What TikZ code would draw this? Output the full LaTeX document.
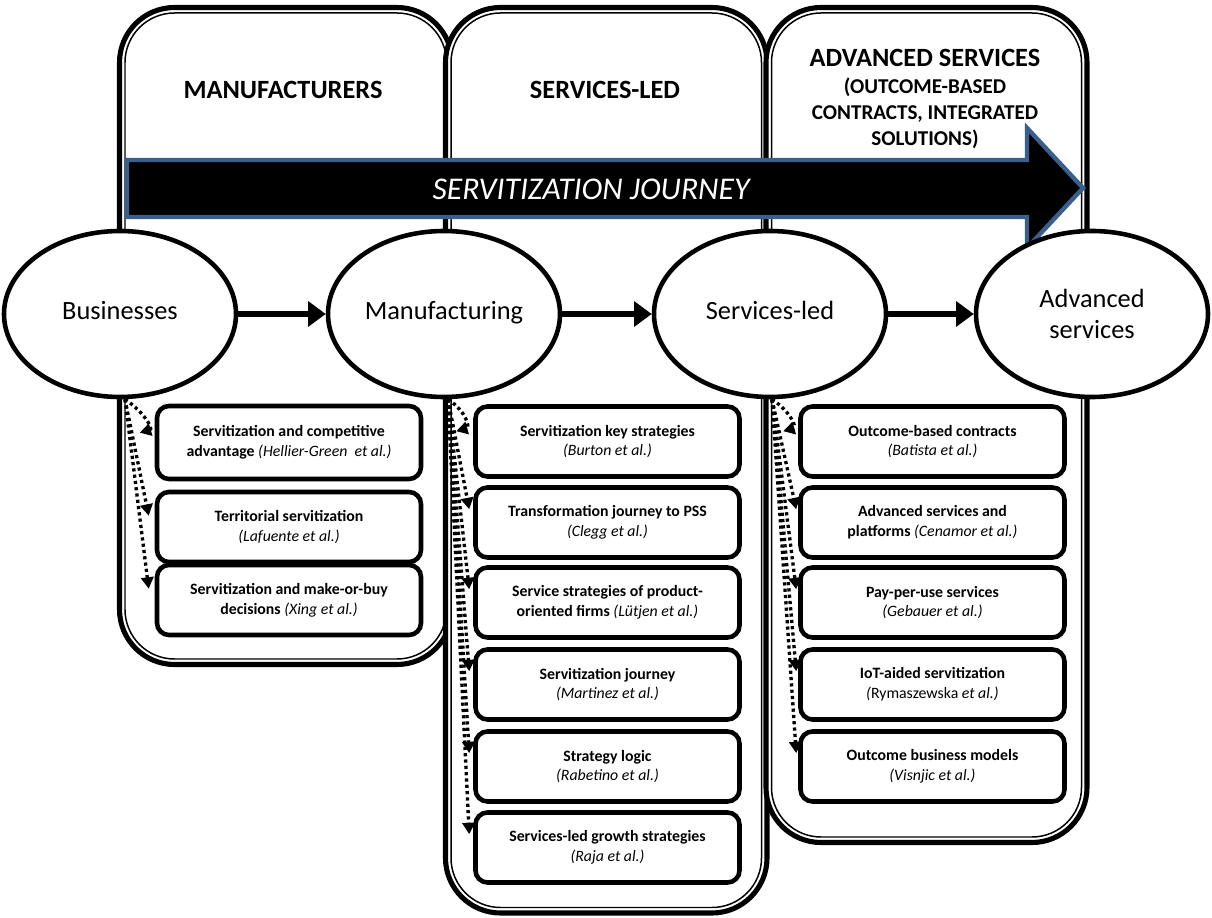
\documentclass[tikz,border=0pt]{standalone}
\usepackage{fontspec}
\setmainfont{Carlito}
\usetikzlibrary{shapes.geometric,arrows.meta,positioning,calc}
\definecolor{arrowedge}{HTML}{3A5F8B}

\tikzset{
  panelouter/.style={line width=2.9pt, rounded corners=11mm},
  panelinner/.style={line width=0.85pt, rounded corners=9.9mm},
  heading/.style={font=\fontsize{15}{18}\selectfont\bfseries, align=center},
  stage/.style={ellipse, draw, line width=2.6pt, fill=white, minimum width=46.4mm,
    minimum height=33.2mm, inner sep=0pt, text height=2ex, text depth=0.6ex,
    font=\fontsize{15}{18}\selectfont},
  litbox/.style={draw, line width=2.6pt, rounded corners=2.4mm, fill=white,
    minimum width=52.8mm, minimum height=14mm, inner sep=1pt, align=center,
    font=\fontsize{9}{11.3}\selectfont\bfseries},
  flow/.style={line width=3.6pt, -{Triangle[length=10pt,width=14pt]}},
  feed/.style={line width=1.9pt, dash pattern=on 1.8pt off 1.8pt,
    -{Triangle[length=6.5pt,width=7pt]}},
}
\newcommand{\authors}[1]{{\mdseries\itshape(#1)}}

\begin{document}
\begin{tikzpicture}[x=0.2mm, y=-0.2mm]
  \useasboundingbox (0,0) rectangle (1212,918);

  % three stage panels, double border
  \draw[panelouter] (119.5,7.5) rectangle (452,664.5);
  \draw[panelinner] (125,13) rectangle (446.5,659);
  \draw[panelouter, fill=white] (445.5,7.5) rectangle (767,913);
  \draw[panelinner] (451,13) rectangle (761.5,907.5);
  \draw[panelouter, fill=white] (766,7.5) rectangle (1087,842.5);
  \draw[panelinner] (771.5,13) rectangle (1081.5,837);

  \node[heading] (hman) at (283,90) {MANUFACTURERS};
  \node[heading] (hsrv) at (605,90) {SERVICES-LED};
  \node[heading] (hadv) at (925,58) {ADVANCED SERVICES};
  \node[heading, font=\fontsize{12}{14.7}\selectfont\bfseries] (hsub) at (925,113)
    {(OUTCOME-BASED\\CONTRACTS, INTEGRATED\\SOLUTIONS)};

  % journey arrow
  \draw[arrowedge, line width=2.5pt, fill=black, line join=miter]
    (127,160) -- (1027,160) -- (1027,128) -- (1083,188) -- (1027,248)
    -- (1027,217) -- (127,217) -- cycle;
  \node[white, font=\fontsize{18}{22}\selectfont\itshape] (journey) at (591,189)
    {SERVITIZATION JOURNEY};

  % stages
  \node[stage] (bus) at (120,314) {Businesses};
  \node[stage] (man) at (444,314) {Manufacturing};
  \node[stage] (srv) at (770,314) {Services-led};
  \node[stage, align=center, text height=, text depth=] (adv) at (1092,314) {Advanced\\services};
  \draw[flow] (bus) -- (man);
  \draw[flow] (man) -- (srv);
  \draw[flow] (srv) -- (adv);

  % literature per stage
  \node[litbox, minimum height=14.6mm] (b1) at (289,442.5)
    {Servitization and competitive\\advantage \authors{Hellier-Green~ et al.}};
  \node[litbox] (b2) at (289,527) {Territorial servitization\\\authors{Lafuente et al.}};
  \node[litbox] (b3) at (289,600)
    {Servitization and make-or-buy\\decisions \authors{Xing et al.}};

  \node[litbox] (s1) at (607.5,441.5) {Servitization key strategies\\\authors{Burton et al.}};
  \node[litbox] (s2) at (607.5,522.5) {Transformation journey to PSS\\\authors{Clegg et al.}};
  \node[litbox] (s3) at (607.5,602.5)
    {Service strategies of product-\\oriented firms \authors{Lütjen et al.}};
  \node[litbox] (s4) at (607.5,684.5) {Servitization journey\\\authors{Martinez et al.}};
  \node[litbox] (s5) at (607.5,766.5) {Strategy logic\\\authors{Rabetino et al.}};
  \node[litbox] (s6) at (607.5,847.5) {Services-led growth strategies\\\authors{Raja et al.}};

  \node[litbox] (a1) at (932.5,441.5) {Outcome-based contracts\\\authors{Batista et al.}};
  \node[litbox] (a2) at (932.5,522.5)
    {Advanced services and\\platforms \authors{Cenamor et al.}};
  \node[litbox] (a3) at (932.5,602.5) {Pay-per-use services\\\authors{Gebauer et al.}};
  \node[litbox] (a4) at (932.5,684.5)
    {IoT-aided servitization\\{\mdseries\itshape(}{\mdseries Rymaszewska} {\mdseries\itshape et al.)}};
  \node[litbox] (a5) at (932.5,766.5) {Outcome business models\\\authors{Visnjic et al.}};

  % dotted links from each stage
  \coordinate (bfoot) at ($(bus.south)+(5,0)$);
  \coordinate (mfoot) at ($(man.south)+(4,0)$);
  \coordinate (sfoot) at ($(srv.south)+(2,0)$);
  \draw[feed] (bfoot) .. controls +(18,12) and +(14,-4) .. ($(b1.north west)+(-15,29)$);
  \draw[feed] (mfoot) .. controls +(18,12) and +(14,-4) .. ($(s1.north west)+(-17,27)$);
  \draw[feed] (sfoot) .. controls +(18,12) and +(14,-4) .. ($(a1.north west)+(-15,27)$);
  \foreach \b in {b2,b3}
    \draw[feed] (bfoot) -- ($(\b.north west)+(-6,26)$);
  \foreach \b in {s2,s3,s4,s5,s6}
    \draw[feed] (mfoot) -- ($(\b.north west)+(-4,24)$);
  \foreach \b in {a2,a3,a4,a5}
    \draw[feed] (sfoot) -- ($(\b.north west)+(-2,24)$);
\end{tikzpicture}
\end{document}
